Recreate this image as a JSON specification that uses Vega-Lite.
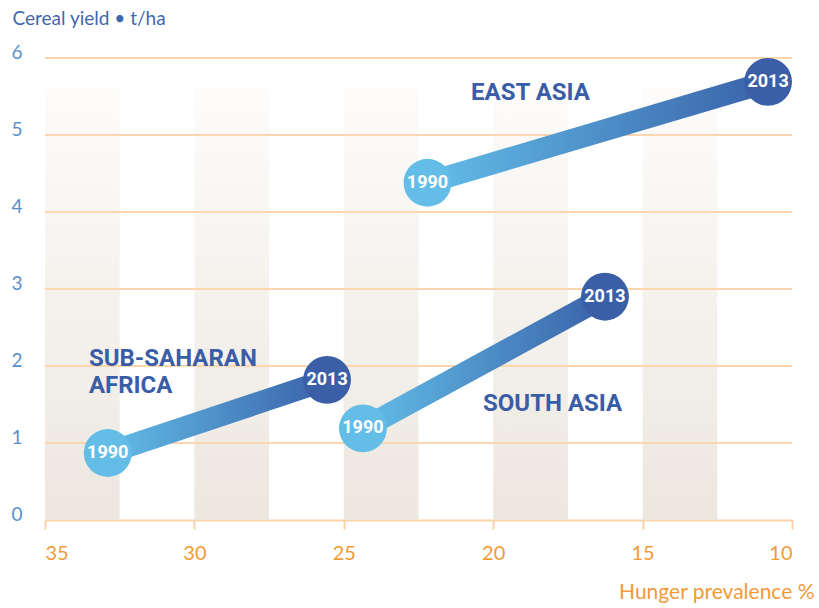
{
  "$schema": "https://vega.github.io/schema/vega-lite/v6.json",
  "width": 747,
  "height": 462,
  "autosize": {"type": "none"},
  "padding": {"left": 45, "top": 58, "right": 27, "bottom": 88},
  "background": "white",
  "config": {"view": {"stroke": null}, "font": "Lato"},
  "datasets": {
    "points": [
      {"region": "East Asia", "year": 1990, "hunger": 22.2, "yield": 4.38},
      {"region": "East Asia", "year": 2013, "hunger": 10.8, "yield": 5.69},
      {"region": "South Asia", "year": 1990, "hunger": 24.36, "yield": 1.19},
      {"region": "South Asia", "year": 2013, "hunger": 16.26, "yield": 2.9},
      {"region": "Sub-Saharan Africa", "year": 1990, "hunger": 32.9, "yield": 0.87},
      {"region": "Sub-Saharan Africa", "year": 2013, "hunger": 25.56, "yield": 1.82}
    ],
    "bands": [
      {"from": 35, "to": 32.5},
      {"from": 30, "to": 27.5},
      {"from": 25, "to": 22.5},
      {"from": 20, "to": 17.5},
      {"from": 15, "to": 12.5}
    ],
    "grid": [{"v": 1}, {"v": 2}, {"v": 3}, {"v": 4}, {"v": 5}, {"v": 6}],
    "labels": [
      {"label": "EAST ASIA", "x": 20.74, "y": 5.455},
      {"label": "SOUTH ASIA", "x": 20.34, "y": 1.416},
      {"label": "SUB-SAHARAN", "x": 33.53, "y": 2.0},
      {"label": "AFRICA", "x": 33.53, "y": 1.65}
    ]
  },
  "encoding": {
    "x": {
      "type": "quantitative",
      "scale": {"domain": [10, 35], "reverse": true, "nice": false, "zero": false}
    },
    "y": {
      "type": "quantitative",
      "scale": {"domain": [0, 6], "nice": false}
    }
  },
  "layer": [
    {
      "data": {"name": "bands"},
      "mark": {
        "type": "rect",
        "fill": {
          "gradient": "linear", "x1": 0, "y1": 0, "x2": 0, "y2": 1,
          "stops": [{"offset": 0, "color": "#FDFCFB"}, {"offset": 1, "color": "#ECE7DF"}]
        }
      },
      "encoding": {
        "x": {
          "field": "from", "type": "quantitative",
          "axis": {
            "title": "Hunger prevalence %",
            "values": [35, 30, 25, 20, 15, 10],
            "format": "d",
            "grid": false,
            "domainColor": "#FBD3AA",
            "domainWidth": 2,
            "tickColor": "#FBD3AA",
            "tickWidth": 2,
            "tickSize": 9,
            "labelColor": "#F29A38",
            "labelFont": "Lato",
            "labelFontSize": 20,
            "labelPadding": 14,
            "titleColor": "#F29A38",
            "titleFont": "Lato",
            "titleFontSize": 21,
            "titleFontWeight": "normal",
            "titleAnchor": "end",
            "titleAlign": "right",
            "titleBaseline": "middle",
            "titleX": 769,
            "titleY": 72
          }
        },
        "x2": {"field": "to"},
        "y": {
          "datum": 5.6, "type": "quantitative",
          "axis": {
            "title": "Cereal yield • t/ha",
            "values": [0, 1, 2, 3, 4, 5, 6],
            "format": "d",
            "grid": false,
            "domain": false,
            "ticks": false,
            "labelColor": "#5A8FCD",
            "labelFont": "Lato",
            "labelFontSize": 19,
            "labelPadding": 23,
            "labelAlign": "right",
            "labelBaseline": "alphabetic",
            "titleColor": "#3F68B0",
            "titleFont": "Lato",
            "titleFontSize": 19,
            "titleFontWeight": "normal",
            "titleAngle": 0,
            "titleAlign": "left",
            "titleBaseline": "middle",
            "titleX": -33,
            "titleY": -40
          }
        },
        "y2": {"datum": 0}
      }
    },
    {
      "data": {"name": "grid"},
      "mark": {"type": "rule", "color": "#FCD6AE", "strokeWidth": 2},
      "encoding": {"y": {"field": "v", "type": "quantitative"}}
    },
    {
      "data": {"name": "points"},
      "mark": {
        "type": "line",
        "strokeWidth": 22,
        "strokeCap": "butt",
        "stroke": {
          "gradient": "linear", "x1": 0, "y1": 0, "x2": 1, "y2": 0,
          "stops": [{"offset": 0, "color": "#62BDE7"}, {"offset": 1, "color": "#3A62A9"}]
        }
      },
      "encoding": {
        "x": {"field": "hunger", "type": "quantitative"},
        "y": {"field": "yield", "type": "quantitative"},
        "detail": {"field": "region"},
        "order": {"field": "year"}
      }
    },
    {
      "data": {"name": "points"},
      "mark": {"type": "point", "filled": true, "opacity": 1, "size": 2290},
      "encoding": {
        "x": {"field": "hunger", "type": "quantitative"},
        "y": {"field": "yield", "type": "quantitative"},
        "color": {
          "field": "year", "type": "nominal",
          "scale": {"domain": [1990, 2013], "range": ["#63BDE7", "#3A5FA6"]},
          "legend": null
        }
      }
    },
    {
      "data": {"name": "points"},
      "mark": {"type": "text", "color": "white", "font": "Roboto", "fontWeight": "bold", "fontSize": 18, "baseline": "middle", "align": "center"},
      "encoding": {
        "x": {"field": "hunger", "type": "quantitative"},
        "y": {"field": "yield", "type": "quantitative"},
        "text": {"field": "year", "type": "nominal"}
      }
    },
    {
      "data": {"name": "labels"},
      "mark": {"type": "text", "color": "#3A5DA8", "font": "Roboto", "fontWeight": "bold", "fontSize": 24, "baseline": "alphabetic", "align": "left"},
      "encoding": {
        "x": {"field": "x", "type": "quantitative"},
        "y": {"field": "y", "type": "quantitative"},
        "text": {"field": "label", "type": "nominal"}
      }
    }
  ]
}
